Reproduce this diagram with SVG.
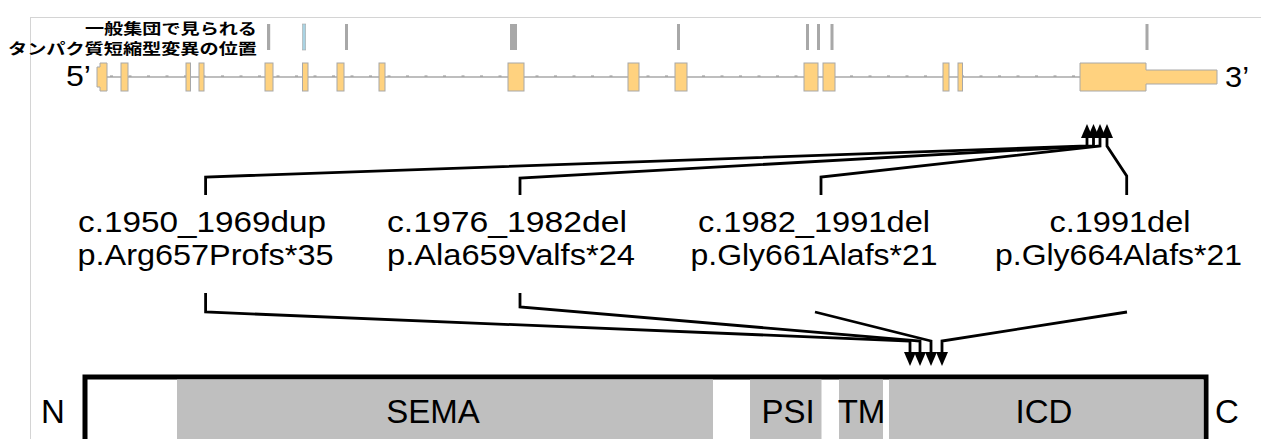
<svg xmlns="http://www.w3.org/2000/svg" width="1261" height="439" viewBox="0 0 1261 439">
<defs>
<style>
.frame{stroke:#d4d4d4;stroke-width:1;fill:none}
.intron{stroke:#a8a8a8;stroke-width:1.5;fill:none}
.tick{stroke:#909090;stroke-width:1;fill:none;stroke-dasharray:3 15.5}
.exon{fill:#ffd27f;stroke:#a8a8a8;stroke-width:1}
.var{fill:#a8a8a8}
.varb{fill:#a9d3e3;stroke:#a8a8a8;stroke-width:0.6}
.jp{font-family:"Noto Sans CJK JP","Noto Sans",sans-serif;font-weight:700;font-size:15px;fill:#000}
.end{font-family:"Liberation Sans",Arial,sans-serif;font-size:30px;fill:#000}
.lab{font-family:"Liberation Sans",Arial,sans-serif;font-size:30px;fill:#000;text-anchor:middle}
.dom{font-family:"Liberation Sans",Arial,sans-serif;font-size:33px;fill:#000;text-anchor:middle}
.conn{stroke:#000;stroke-width:2.8;fill:none;stroke-linejoin:miter}
.gray{fill:#bfbfbf}
</style>
<marker id="ah" viewBox="0 0 14 12" refX="1" refY="6" markerWidth="14" markerHeight="12" markerUnits="userSpaceOnUse" orient="auto">
<path d="M0,0 L14,6 L0,12 Z" fill="#000"/>
</marker>
</defs>
<rect width="1261" height="439" fill="#fff"/>
<g id="frame">
<path class="frame" d="M30,17.5 H1261 M30.5,17 V439"/>
</g>
<g id="gene">
<path class="intron" d="M107,77 H1080"/>
<path class="tick" d="M110,76 H1080"/>
<path class="exon" d="M100,63 H107 V91 H100 V87 H97 V67 H100 Z"/>
<rect class="exon" x="121" y="63" width="7" height="28"/>
<rect class="exon" x="186" y="63" width="4.5" height="28"/>
<rect class="exon" x="199" y="63" width="5" height="28"/>
<rect class="exon" x="265" y="63" width="8" height="28"/>
<rect class="exon" x="302.5" y="63" width="5.5" height="28"/>
<rect class="exon" x="337" y="63" width="7" height="28"/>
<rect class="exon" x="379" y="63" width="6" height="28"/>
<rect class="exon" x="508" y="63" width="16" height="28"/>
<rect class="exon" x="628" y="63" width="11" height="28"/>
<rect class="exon" x="675" y="63" width="12" height="28"/>
<rect class="exon" x="804" y="63" width="14" height="28"/>
<rect class="exon" x="823" y="63" width="12" height="28"/>
<rect class="exon" x="943" y="63" width="6" height="28"/>
<rect class="exon" x="958" y="63" width="4.5" height="28"/>
<path class="exon" d="M1080,63 H1146 V70 H1217 V84 H1146 V91 H1080 Z"/>
<text class="end" x="66" y="86" textLength="25" lengthAdjust="spacingAndGlyphs">5’</text>
<text class="end" x="1225" y="87" textLength="24" lengthAdjust="spacingAndGlyphs">3’</text>
</g>
<g id="variants">
<rect class="var" x="267" y="24" width="3.2" height="26"/>
<rect class="varb" x="302.5" y="24" width="3.2" height="26"/>
<rect class="var" x="345" y="24" width="3" height="26"/>
<rect class="var" x="510" y="24" width="7" height="26"/>
<rect class="var" x="677" y="24" width="3" height="26"/>
<rect class="var" x="806" y="24" width="3" height="26"/>
<rect class="var" x="817" y="24" width="3" height="26"/>
<rect class="var" x="830.5" y="24" width="3" height="26"/>
<rect class="var" x="1145.5" y="24" width="3" height="26"/>
</g>
<g id="legend">
<text class="jp" x="257" y="33.5" text-anchor="end" textLength="172" lengthAdjust="spacingAndGlyphs">一般集団で見られる</text>
<text class="jp" x="257" y="54" text-anchor="end" textLength="249" lengthAdjust="spacingAndGlyphs">タンパク質短縮型変異の位置</text>
</g>
<g id="mut1">
<text class="lab" x="202" y="232" textLength="248" lengthAdjust="spacingAndGlyphs">c.1950_1969dup</text>
<text class="lab" x="205.5" y="265" textLength="256" lengthAdjust="spacingAndGlyphs">p.Arg657Profs*35</text>
</g>
<g id="mut2">
<text class="lab" x="507" y="232" textLength="240" lengthAdjust="spacingAndGlyphs">c.1976_1982del</text>
<text class="lab" x="511" y="265" textLength="248" lengthAdjust="spacingAndGlyphs">p.Ala659Valfs*24</text>
</g>
<g id="mut3">
<text class="lab" x="814" y="232" textLength="232" lengthAdjust="spacingAndGlyphs">c.1982_1991del</text>
<text class="lab" x="814" y="265" textLength="247" lengthAdjust="spacingAndGlyphs">p.Gly661Alafs*21</text>
</g>
<g id="mut4">
<text class="lab" x="1120" y="232" textLength="141" lengthAdjust="spacingAndGlyphs">c.1991del</text>
<text class="lab" x="1118.5" y="265" textLength="247" lengthAdjust="spacingAndGlyphs">p.Gly664Alafs*21</text>
</g>
<g id="protein">
<rect x="85" y="377" width="1121" height="80" fill="#fff" stroke="#000" stroke-width="5"/>
<rect class="gray" x="177" y="379.5" width="536" height="60"/>
<rect class="gray" x="750" y="379.5" width="71.5" height="60"/>
<rect class="gray" x="839" y="379.5" width="44" height="60"/>
<rect class="gray" x="889" y="379.5" width="314.5" height="60"/>
<text class="dom" x="433" y="423">SEMA</text>
<text class="dom" x="788" y="423">PSI</text>
<text class="dom" x="861.5" y="423">TM</text>
<text class="dom" x="1044" y="423">ICD</text>
<text class="dom" x="53" y="423">N</text>
<text class="dom" x="1227" y="423">C</text>
</g>
<g id="connectors">
<path class="conn" marker-end="url(#ah)" d="M205.6,195 V177 L1087,146 V137"/>
<path class="conn" marker-end="url(#ah)" d="M520,195 V178 L1093.5,146 V137"/>
<path class="conn" marker-end="url(#ah)" d="M821,195 V177 L1100,146 V137"/>
<path class="conn" marker-end="url(#ah)" d="M1126.7,195 V176 L1107,146 V137"/>
<path class="conn" marker-end="url(#ah)" d="M205.6,293 V312 L910,341 V353"/>
<path class="conn" marker-end="url(#ah)" d="M520,293 V307 L920,341 V353"/>
<path class="conn" marker-end="url(#ah)" d="M815,312 L931,341 V353"/>
<path class="conn" marker-end="url(#ah)" d="M1127,312 L942,341 V353"/>
</g>
</svg>
